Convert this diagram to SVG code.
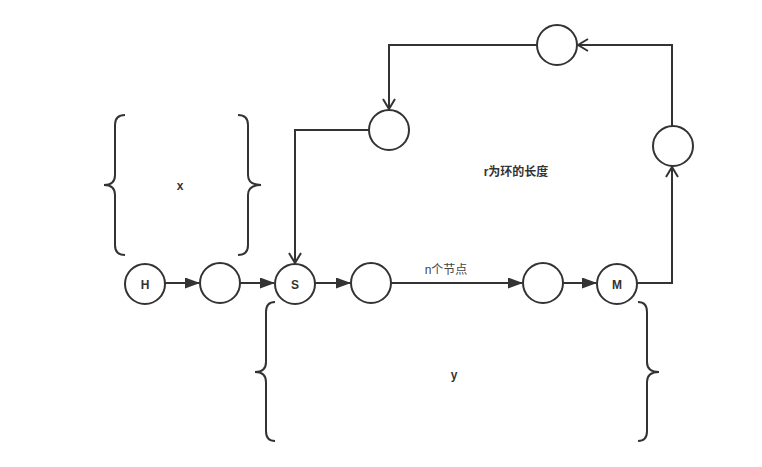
<svg xmlns="http://www.w3.org/2000/svg" width="762" height="467" viewBox="0 0 762 467">
<style>
.n{fill:#fff;stroke:#333;stroke-width:2}
.c{fill:none;stroke:#333;stroke-width:2}
.b{fill:none;stroke:#333;stroke-width:2}
.t{font-family:"Liberation Sans","Noto Sans CJK SC",sans-serif;font-size:12px;font-weight:bold;fill:#333;text-anchor:middle}
.l{font-family:"Liberation Sans","Noto Sans CJK SC",sans-serif;font-size:12px;fill:#444;text-anchor:middle}
</style>
<defs>
<marker id="fa" markerWidth="15" markerHeight="11" refX="14" refY="5.5" orient="auto" markerUnits="userSpaceOnUse"><path d="M0,0 L15,5.5 L0,11 Z" fill="#333"/></marker>
<marker id="oa" markerWidth="12" markerHeight="14" refX="11" refY="7" orient="auto" markerUnits="userSpaceOnUse"><path d="M1,1 L11,7 L1,13" fill="none" stroke="#333" stroke-width="2"/></marker>
</defs>
<rect width="762" height="467" fill="#fff"/>
<g id="connectors">
<path class="c" d="M165,283 H199" marker-end="url(#fa)"/>
<path class="c" d="M240,283 H274" marker-end="url(#fa)"/>
<path class="c" d="M315,283 H350" marker-end="url(#fa)"/>
<path class="c" d="M391,283 H522" marker-end="url(#fa)"/>
<path class="c" d="M563,283 H596" marker-end="url(#fa)"/>
<path class="c" d="M637,283 H672 V167" marker-end="url(#oa)"/>
<path class="c" d="M672,126 V45 H578" marker-end="url(#oa)"/>
<path class="c" d="M537,45 H389 V109" marker-end="url(#oa)"/>
<path class="c" d="M369,130 H295 V263" marker-end="url(#oa)"/>
<text class="l" x="446" y="274">n个节点</text>
</g>
<g id="H"><circle class="n" cx="145" cy="284" r="20"/><text class="t" x="145" y="289">H</text></g>
<g id="n2"><circle class="n" cx="220" cy="283" r="20"/></g>
<g id="S"><circle class="n" cx="295" cy="284" r="20"/><text class="t" x="295" y="289">S</text></g>
<g id="n4"><circle class="n" cx="371" cy="283" r="20"/></g>
<g id="n5"><circle class="n" cx="543" cy="283" r="20"/></g>
<g id="M"><circle class="n" cx="617" cy="284" r="20"/><text class="t" x="617" y="289">M</text></g>
<g id="top"><circle class="n" cx="557" cy="45" r="20"/></g>
<g id="left"><circle class="n" cx="389" cy="130" r="20"/></g>
<g id="right"><circle class="n" cx="673" cy="146" r="20"/></g>
<g id="braceX">
<path class="b" d="M125,115 Q115,115 115,125 V175 Q115,185 104,185 Q115,185 115,195 V245 Q115,255 125,255"/>
<path class="b" d="M238,115 Q248,115 248,125 V175 Q248,185 261,185 Q248,185 248,195 V245 Q248,255 238,255"/>
<text class="t" x="180" y="190">x</text>
</g>
<g id="braceY">
<path class="b" d="M275,302 Q266,302 266,312 V362 Q266,372 255,372 Q266,372 266,382 V431 Q266,441 275,441"/>
<path class="b" d="M638,302 Q647,302 647,312 V362 Q647,372 659,372 Q647,372 647,382 V431 Q647,441 638,441"/>
<text class="t" x="454" y="379">y</text>
</g>
<g id="label"><text class="t" x="516" y="176">r为环的长度</text></g>
</svg>
